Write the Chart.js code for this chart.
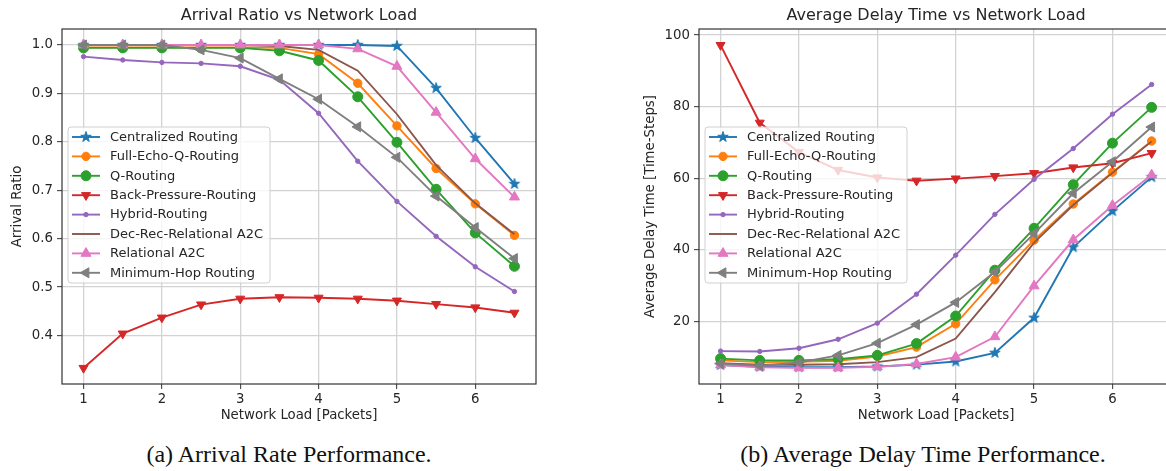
<!DOCTYPE html>
<html>
<head>
<meta charset="utf-8">
<title>Arrival Ratio and Average Delay vs Network Load</title>
<script src="https://cdn.jsdelivr.net/npm/chart.js@4.4.1/dist/chart.umd.min.js"></script>
<style>
  html, body { margin: 0; padding: 0; background: #fff; overflow: hidden; }
  body { width: 1166px; height: 471px; position: relative; }
  .panel { position: absolute; top: 0; height: 430px; }
  #panelA { left: 0; width: 560px; }
  #panelB { left: 580px; width: 600px; }
  .caption {
    position: absolute; top: 441px; line-height: 27px;
    font-family: "Liberation Serif", "DejaVu Serif", serif;
    font-size: 24px; color: #111; white-space: nowrap;
    transform: translateX(-50%);
  }
</style>
</head>
<body>
<div class="panel" id="panelA"><canvas id="chartArrival"></canvas></div>
<div class="panel" id="panelB"><canvas id="chartDelay"></canvas></div>
<div class="caption" style="left:289px">(a) Arrival Rate Performance.</div>
<div class="caption" style="left:923px">(b) Average Delay Time Performance.</div>

<script>
// ---- data ----
const loads = [1, 1.5, 2, 2.5, 3, 3.5, 4, 4.5, 5, 5.5, 6, 6.5];
const loadTicks = [1, 2, 3, 4, 5, 6];
const arrivalTicks = [0.4, 0.5, 0.6, 0.7, 0.8, 0.9, 1.0];
const delayTicks = [20, 40, 60, 80, 100];

const seriesNames = [
  "Centralized Routing",
  "Full-Echo-Q-Routing",
  "Q-Routing",
  "Back-Pressure-Routing",
  "Hybrid-Routing",
  "Dec-Rec-Relational A2C",
  "Relational A2C",
  "Minimum-Hop Routing"
];

// arrival ratio per load
const arrCentralized  = [1.0, 1.0, 1.0, 1.0, 1.0, 1.0, 1.0, 1.0, 0.998, 0.911, 0.808, 0.713];
const arrFullEcho     = [0.995, 0.995, 0.995, 0.995, 0.995, 0.994, 0.981, 0.921, 0.833, 0.745, 0.672, 0.607];
const arrQRouting     = [0.994, 0.994, 0.994, 0.994, 0.994, 0.988, 0.968, 0.893, 0.799, 0.702, 0.612, 0.543];
const arrBackPressure = [0.333, 0.404, 0.437, 0.464, 0.476, 0.479, 0.478, 0.476, 0.472, 0.465, 0.458, 0.447];
const arrHybrid       = [0.976, 0.969, 0.964, 0.962, 0.956, 0.928, 0.859, 0.760, 0.677, 0.605, 0.542, 0.491];
const arrDecRec       = [1.0, 1.0, 1.0, 1.0, 1.0, 0.998, 0.990, 0.947, 0.857, 0.752, 0.673, 0.609];
const arrRelational   = [1.0, 1.0, 1.0, 1.0, 1.0, 1.0, 1.0, 0.992, 0.956, 0.861, 0.765, 0.686];
const arrMinHop       = [1.0, 1.0, 1.0, 0.990, 0.973, 0.930, 0.888, 0.831, 0.768, 0.688, 0.623, 0.559];

// average delay (time-steps) per load
const delCentralized  = [7.8, 7.3, 7.2, 7.2, 7.4, 7.9, 8.8, 11.2, 21.0, 40.7, 50.8, 60.3];
const delFullEcho     = [9.1, 8.6, 8.7, 9.0, 10.2, 12.8, 19.3, 31.6, 42.7, 52.8, 61.7, 70.4];
const delQRouting     = [9.6, 9.1, 9.1, 9.4, 10.5, 13.8, 21.5, 34.3, 46.0, 58.2, 69.8, 79.8];
const delBackPressure = [97.2, 75.5, 67.3, 62.3, 60.2, 59.3, 59.9, 60.6, 61.4, 63.0, 64.2, 67.0];
const delHybrid       = [11.7, 11.6, 12.5, 15.0, 19.5, 27.6, 38.5, 49.9, 59.7, 68.3, 77.9, 86.2];
const delDecRec       = [8.3, 7.9, 7.9, 8.0, 8.6, 10.0, 15.2, 28.2, 42.0, 52.5, 61.5, 70.3];
const delRelational   = [7.8, 7.2, 7.0, 7.0, 7.3, 8.1, 10.0, 15.7, 29.9, 42.8, 52.4, 60.9];
const delMinHop       = [8.2, 7.6, 8.5, 10.5, 13.9, 19.1, 25.3, 33.8, 44.5, 55.8, 64.6, 74.3];

// ---- styling ----
const FONT = "'DejaVu Sans', 'Liberation Sans', sans-serif";
const TEXT = "#262626";

// filled 5-point star, Chart.js only has the asterisk kind
function makeStar(color, R) {
  const s = Math.ceil(R * 2 + 3);
  const c = document.createElement("canvas");
  c.width = s; c.height = s;
  const g = c.getContext("2d");
  g.translate(s / 2, s / 2);
  g.beginPath();
  for (let k = 0; k < 10; k++) {
    const rr = k % 2 ? R * 0.39 : R;
    const a = -Math.PI / 2 + k * Math.PI / 5;
    g.lineTo(rr * Math.cos(a), rr * Math.sin(a));
  }
  g.closePath();
  g.fillStyle = color; g.fill();
  g.strokeStyle = color; g.lineWidth = 1; g.stroke();
  return c;
}

const markers = [
  { color: "#1f77b4", style: makeStar("#1f77b4", 5.5), rot: 0, r: 5.5 },
  { color: "#ff7f0e", style: "circle", rot: 0, r: 4.2 },
  { color: "#2ca02c", style: "circle", rot: 0, r: 5 },
  { color: "#d62728", style: "triangle", rot: 180, r: 5.2 },
  { color: "#9467bd", style: "circle", rot: 0, r: 2.2 },
  { color: "#8c564b", style: false, rot: 0, r: 0 },
  { color: "#e377c2", style: "triangle", rot: 0, r: 5.8 },
  { color: "#7f7f7f", style: "triangle", rot: -90, r: 5.8 }
];

function buildDatasets(valueLists) {
  return valueLists.map((vals, i) => {
    const m = markers[i];
    return {
      label: seriesNames[i],
      data: loads.map((x, k) => ({ x: x, y: vals[k] })),
      borderColor: m.color,
      backgroundColor: m.color,
      borderWidth: 1.9,
      pointStyle: m.style,
      pointRotation: m.rot,
      pointRadius: m.style ? m.r : 0,
      pointBackgroundColor: m.color,
      pointBorderColor: m.color,
      pointBorderWidth: 1,
      tension: 0,
      order: 7 - i   // later series drawn on top
    };
  });
}

// frame, inset legend and title drawn on the canvas
const framePlugin = {
  id: "frameLegend",
  afterDatasetsDraw(chart, args, opts) {
    const ctx = chart.ctx;
    const a = chart.chartArea;
    ctx.save();
    ctx.strokeStyle = "#333";
    ctx.lineWidth = 1.2;
    ctx.strokeRect(a.left, a.top, a.right - a.left, a.bottom - a.top);

    // legend box
    ctx.font = "13px " + FONT;
    let maxW = 0;
    chart.data.datasets.forEach(ds => { maxW = Math.max(maxW, ctx.measureText(ds.label).width); });
    const bx = a.left + 6, by = a.top + 98;
    const bw = 42 + maxW + 7, bh = 156;
    const rad = 3;
    ctx.beginPath();
    ctx.moveTo(bx + rad, by);
    ctx.arcTo(bx + bw, by, bx + bw, by + bh, rad);
    ctx.arcTo(bx + bw, by + bh, bx, by + bh, rad);
    ctx.arcTo(bx, by + bh, bx, by, rad);
    ctx.arcTo(bx, by, bx + bw, by, rad);
    ctx.closePath();
    ctx.fillStyle = "rgba(255,255,255,0.8)";
    ctx.fill();
    ctx.strokeStyle = "#d0d0d0";
    ctx.lineWidth = 1;
    ctx.stroke();

    chart.data.datasets.forEach((ds, i) => {
      const cy = by + 10 + i * 19.4;
      ctx.strokeStyle = ds.borderColor;
      ctx.lineWidth = 1.9;
      ctx.beginPath();
      ctx.moveTo(bx + 4, cy);
      ctx.lineTo(bx + 32, cy);
      ctx.stroke();
      if (ds.pointStyle) {
        ctx.fillStyle = ds.pointBackgroundColor;
        ctx.strokeStyle = ds.pointBorderColor;
        ctx.lineWidth = 1;
        Chart.helpers.drawPoint(ctx, {
          pointStyle: ds.pointStyle,
          rotation: ds.pointRotation,
          radius: ds.pointRadius,
          borderWidth: 1
        }, bx + 18, cy);
      }
      ctx.fillStyle = TEXT;
      ctx.textAlign = "left";
      ctx.textBaseline = "middle";
      ctx.fillText(ds.label, bx + 42, cy + 0.5);
    });

    // title centred over the plot area
    ctx.font = "16px " + FONT;
    ctx.fillStyle = TEXT;
    ctx.textAlign = "center";
    ctx.textBaseline = "middle";
    ctx.fillText(opts.text, (a.left + a.right) / 2, 16);
    ctx.restore();
  }
};

function makeOptions(title, yTitle, yMin, yMax, yTickList, yFmt, yWidth, padLeft, padRight) {
  return {
    responsive: true,
    maintainAspectRatio: false,
    animation: false,
    events: [],
    layout: { padding: { top: 29, left: padLeft, right: padRight, bottom: 0 } },
    plugins: {
      legend: { display: false },
      tooltip: { enabled: false },
      title: { display: false },
      frameLegend: { text: title }
    },
    scales: {
      x: {
        type: "linear",
        min: 0.725,
        max: 6.775,
        afterBuildTicks: s => { s.ticks = loadTicks.map(v => ({ value: v })); },
        afterFit: s => { s.height = 46; },
        grid: { color: "#d3d3d3", lineWidth: 1.3, tickColor: "#333", tickLength: 5, tickWidth: 1 },
        border: { display: false },
        ticks: { autoSkip: false, padding: 3, color: TEXT, font: { family: FONT, size: 13.3 },
                 callback: v => String(v) },
        title: { display: true, text: "Network Load [Packets]", color: TEXT,
                 font: { family: FONT, size: 13.3 }, padding: { top: 0, bottom: 6 } }
      },
      y: {
        type: "linear",
        min: yMin,
        max: yMax,
        afterBuildTicks: s => { s.ticks = yTickList.map(v => ({ value: v })); },
        afterFit: s => { s.width = yWidth; },
        grid: { color: "#d3d3d3", lineWidth: 1.3, tickColor: "#333", tickLength: 5, tickWidth: 1 },
        border: { display: false },
        ticks: { autoSkip: false, padding: 4, color: TEXT, font: { family: FONT, size: 13.3 },
                 callback: yFmt },
        title: { display: true, text: yTitle, color: TEXT,
                 font: { family: FONT, size: 13.3 }, padding: { top: 10, bottom: 0 } }
      }
    }
  };
}

new Chart(document.getElementById("chartArrival"), {
  type: "line",
  data: {
    datasets: buildDatasets([arrCentralized, arrFullEcho, arrQRouting, arrBackPressure,
                             arrHybrid, arrDecRec, arrRelational, arrMinHop])
  },
  options: makeOptions("Arrival Ratio vs Network Load", "Arrival Ratio",
                       0.3, 1.033, arrivalTicks, v => v.toFixed(1), 62, 0, 24),
  plugins: [framePlugin]
});

new Chart(document.getElementById("chartDelay"), {
  type: "line",
  data: {
    datasets: buildDatasets([delCentralized, delFullEcho, delQRouting, delBackPressure,
                             delHybrid, delDecRec, delRelational, delMinHop])
  },
  options: makeOptions("Average Delay Time vs Network Load", "Average Delay Time [Time-Steps]",
                       2.5, 101.7, delayTicks, v => String(v), 66, 53, 5.5),
  plugins: [framePlugin]
});
</script>
</body>
</html>
